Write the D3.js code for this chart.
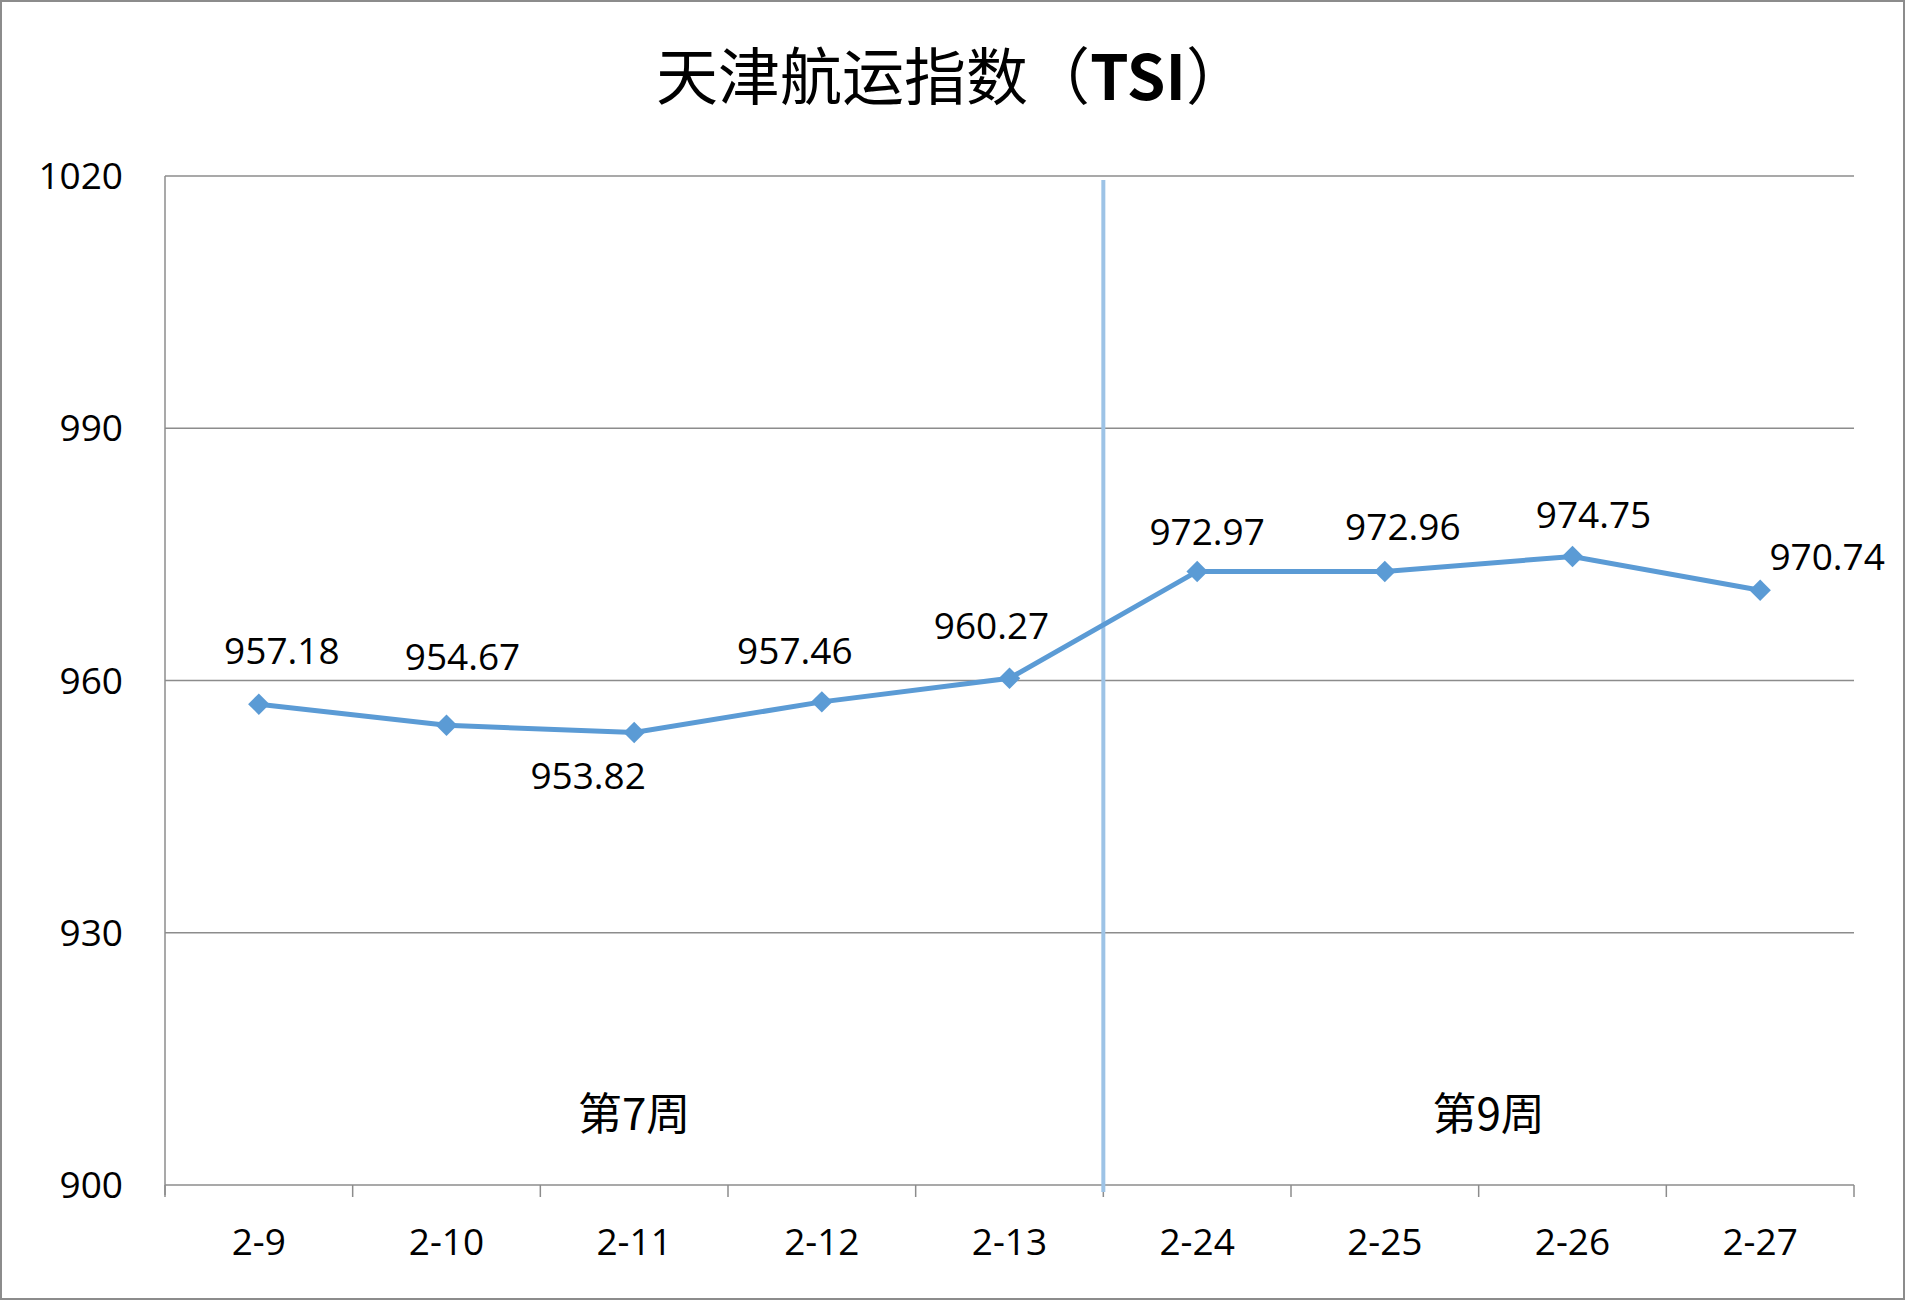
<!DOCTYPE html>
<html><head><meta charset="utf-8">
<script src="https://cdn.jsdelivr.net/npm/d3@7"></script>
<style>body{margin:0;background:#fff}</style>
</head><body>
<svg id="c" width="1905" height="1300"></svg>
<script>
var categories = ["2-9","2-10","2-11","2-12","2-13","2-24","2-25","2-26","2-27"];
var values = [957.18,954.67,953.82,957.46,960.27,972.97,972.96,974.75,970.74];
var yTicks = [900,930,960,990,1020];
var weeks = [{name:"第7周", from:0, to:4}, {name:"第9周", from:5, to:8}];
// label offsets (px) relative to each marker
var labelDx = [23,16,-46,-27,-18,10,18,21,67];
var labelDy = [-53,-68,44,-51,-52,-39,-45,-41,-33];

var svg = d3.select("#c");
var font = "'Open Sans','Noto Sans CJK SC',sans-serif";
svg.append("rect").attr("x",1).attr("y",1).attr("width",1903).attr("height",1298)
  .attr("fill","#fff").attr("stroke","#8c8c8c").attr("stroke-width",2);

var L=165, R=1854, T=176, B=1185;
var x = d3.scaleBand().domain(categories).range([L,R]);
var y = d3.scaleLinear().domain([900,1020]).range([B,T]);
var cx = function(d){ return x(d)+x.bandwidth()/2; };

svg.append("text").attr("x",952).attr("y",100).attr("text-anchor","middle")
  .attr("font-family","'Noto Sans CJK SC',sans-serif").attr("font-size",62)
  .html("天津航运指数（<tspan font-weight='bold'>TSI</tspan>）");

svg.append("g").selectAll("line").data(yTicks).enter().append("line")
  .attr("x1",L).attr("x2",R).attr("y1",d=>y(d)).attr("y2",d=>y(d))
  .attr("stroke","#8c8c8c").attr("stroke-width",1.5);
svg.append("line").attr("x1",L).attr("x2",L).attr("y1",T).attr("y2",B+10)
  .attr("stroke","#8c8c8c").attr("stroke-width",1.5);
svg.append("g").selectAll("text").data(yTicks).enter().append("text")
  .attr("x",L-42).attr("y",d=>y(d)+13).attr("text-anchor","end")
  .attr("font-family",font).attr("font-size",37).text(d=>d);
svg.append("g").selectAll("line").data(d3.range(categories.length+1)).enter().append("line")
  .attr("x1",i=>L+i*x.bandwidth()).attr("x2",i=>L+i*x.bandwidth())
  .attr("y1",B).attr("y2",B+12).attr("stroke","#8c8c8c").attr("stroke-width",1.5);
svg.append("g").selectAll("text").data(categories).enter().append("text")
  .attr("x",cx).attr("y",B+70).attr("text-anchor","middle")
  .attr("font-family",font).attr("font-size",37).text(d=>d);

// week divider
var divX = L+5*x.bandwidth();
svg.append("line").attr("x1",divX).attr("x2",divX).attr("y1",T+4).attr("y2",B+7)
  .attr("stroke","#9dc3e6").attr("stroke-width",4);
svg.append("g").selectAll("text").data(weeks).enter().append("text")
  .attr("x",d=>(cx(categories[d.from])+cx(categories[d.to]))/2 + (d.from?10:0))
  .attr("y",y(906.5)).attr("text-anchor","middle")
  .attr("font-family","'Noto Sans CJK SC',sans-serif").attr("font-size",44).text(d=>d.name);

var line = d3.line().x((d,i)=>cx(categories[i])).y(d=>y(d));
svg.append("path").datum(values).attr("d",line).attr("fill","none")
  .attr("stroke","#5b9bd5").attr("stroke-width",5);
svg.append("g").selectAll("path").data(values).enter().append("path")
  .attr("d",d3.symbol(d3.symbolSquare,230))
  .attr("transform",(d,i)=>"translate("+cx(categories[i])+","+y(d)+") rotate(45)")
  .attr("fill","#5b9bd5");
svg.append("g").selectAll("text").data(values).enter().append("text")
  .attr("x",(d,i)=>cx(categories[i])+labelDx[i]).attr("y",(d,i)=>y(d)+labelDy[i]+13)
  .attr("text-anchor","middle").attr("font-family",font).attr("font-size",37)
  .text(d=>d.toFixed(2));
</script>
</body></html>
